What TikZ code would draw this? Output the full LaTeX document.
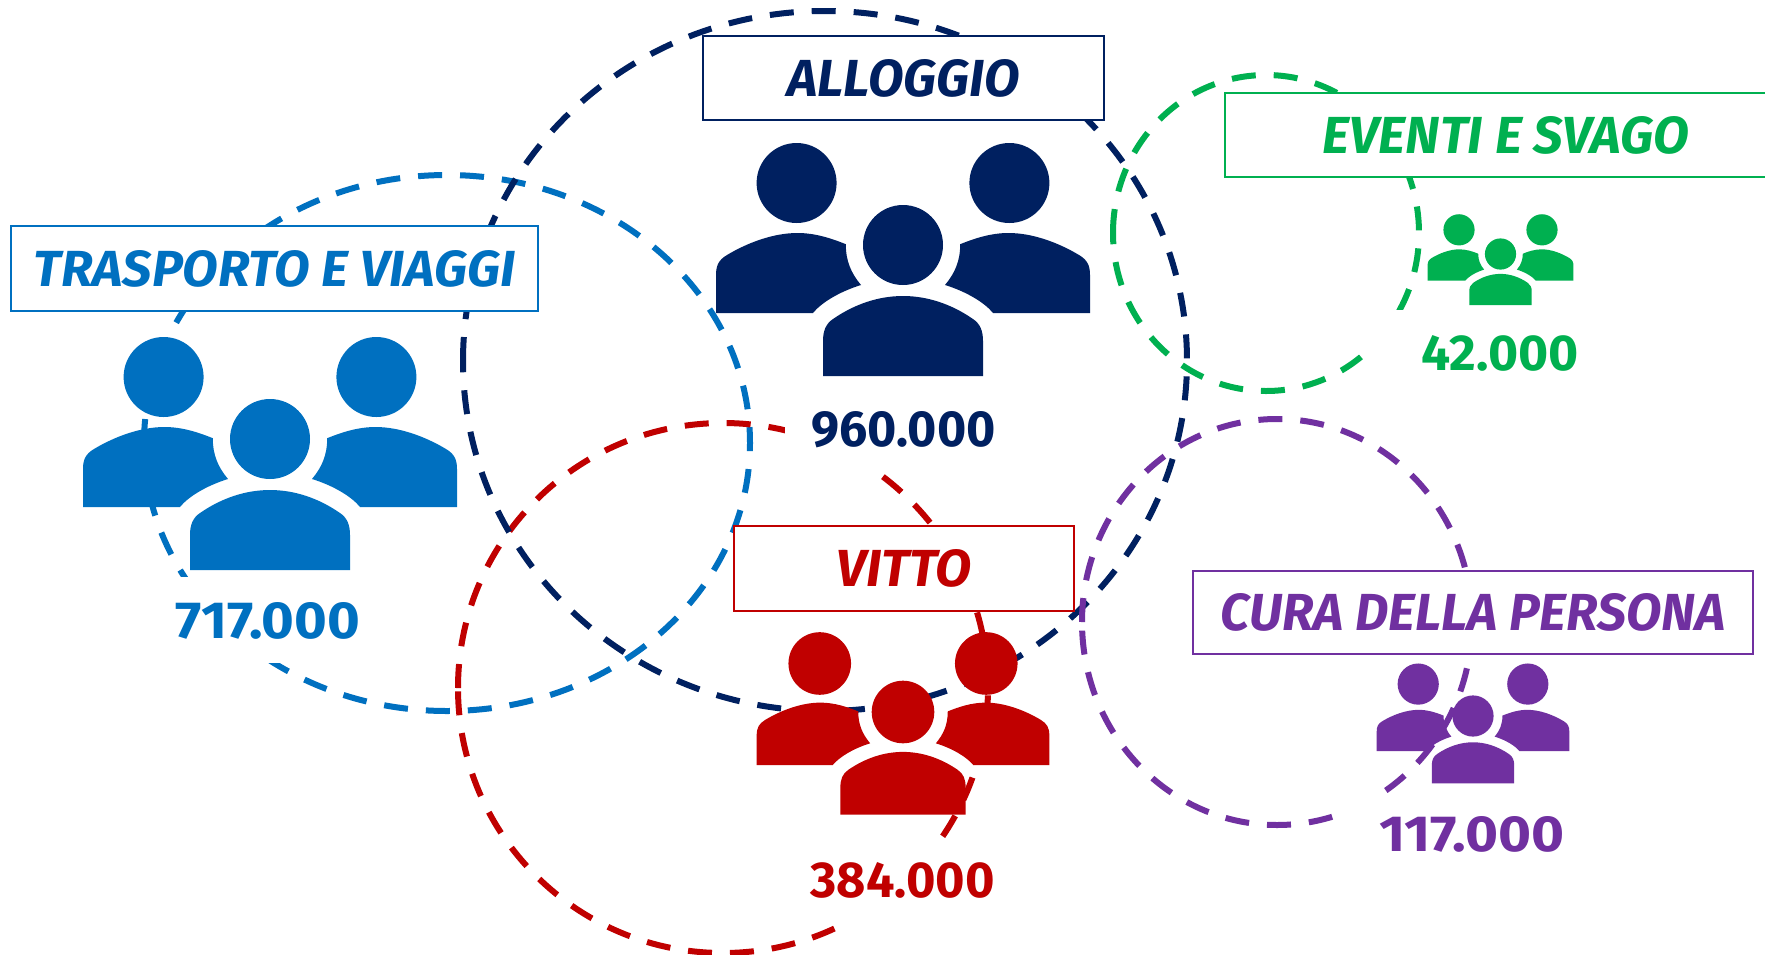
\documentclass[tikz,border=0pt]{standalone}
\usepackage{fontspec}
\usepackage{graphicx}
\setmainfont{Fira Sans}
\definecolor{navyc}{HTML}{002060}
\definecolor{bluec}{HTML}{0070C0}
\definecolor{redc}{HTML}{C00000}
\definecolor{greenc}{HTML}{00B050}
\definecolor{purplec}{HTML}{7030A0}
\tikzset{
  ring/.style={line width=6pt,dash pattern=on 24pt off 18pt},
  plate/.style={fill=white,draw=none},
  labelbox/.style={draw=#1,fill=white,line width=1.6pt,text=#1,inner sep=0pt},
  numtext/.style={text=#1,inner sep=0pt},
}
% x-centre, y-centre, x radius, y radius, colour: starts at the left, runs clockwise
\newcommand{\ringshape}[5]{%
  \draw[ring,draw=#5] ({#1-#3},#2) arc[start angle=180,delta angle=360,x radius=#3,y radius=#4];}
% x-centre, y-centre, head radius, colour
\newcommand{\peopleicon}[4]{%
  \begin{scope}[shift={(#1,#2)},x=#3pt,y=-#3pt,fill=#4,draw=none]
    \fill (-2.66,-1.55) circle[radius=1];
    \fill (2.66,-1.55) circle[radius=1];
    \fill (0,0) circle[radius=1];
    \fill (-4.675,1.7) -- (-4.675,0.75) .. controls (-4.675,0.5) and (-4.6,0.37) .. (-4.4,0.25)
      .. controls (-3.9,-0.05) and (-3.25,-0.3) .. (-2.64,-0.3)
      .. controls (-2.2,-0.3) and (-1.8,-0.17) .. (-1.43,-0.02)
      .. controls (-1.43,0.4) and (-1.3,0.7) .. (-1.05,1.0)
      .. controls (-1.6,1.17) and (-2.05,1.45) .. (-2.25,1.7) -- cycle;
    \fill (4.675,1.7) -- (4.675,0.75) .. controls (4.675,0.5) and (4.6,0.37) .. (4.4,0.25)
      .. controls (3.9,-0.05) and (3.25,-0.3) .. (2.64,-0.3)
      .. controls (2.2,-0.3) and (1.8,-0.17) .. (1.43,-0.02)
      .. controls (1.43,0.4) and (1.3,0.7) .. (1.05,1.0)
      .. controls (1.6,1.17) and (2.05,1.45) .. (2.25,1.7) -- cycle;
    \fill (-2,3.275) -- (-2,2.4) .. controls (-2,2.15) and (-1.93,1.97) .. (-1.75,1.85)
      .. controls (-1.2,1.47) and (-0.6,1.275) .. (0,1.275)
      .. controls (0.6,1.275) and (1.2,1.47) .. (1.75,1.85)
      .. controls (1.93,1.97) and (2,2.15) .. (2,2.4) -- (2,3.275) -- cycle;
  \end{scope}}
\newcommand{\fitlabel}[3]{\resizebox{#1pt}{#2pt}{\bfseries\itshape #3}}
\newcommand{\fitnum}[3]{\resizebox{#1pt}{#2pt}{\bfseries #3}}
\begin{document}
\begin{tikzpicture}[x=1pt,y=-1pt]
\useasboundingbox (0,0) rectangle (1765,954);
\fill[white] (0,0) rectangle (1765,954);
% rings
\ringshape{447}{443}{303}{268}{bluec}
\ringshape{723}{688}{265}{265}{redc}
\ringshape{825}{361}{362}{350}{navyc}
\ringshape{1266}{233}{153}{158}{greenc}
\ringshape{1277}{622}{195}{203}{purplec}
% white plates behind the numbers
\fill[plate] (165,577) rectangle (400,663);
\fill[plate] (785,395) rectangle (1015,472);
\fill[plate] (790,838) rectangle (1020,924);
\fill[plate] (1345,795) rectangle (1590,875);
\fill[plate] (1365,310) rectangle (1600,390);
% icons
\peopleicon{270}{439}{40}{bluec}
\peopleicon{903}{245}{40}{navyc}
\peopleicon{903}{712}{31.3}{redc}
\peopleicon{1500.5}{254}{15.6}{greenc}
\peopleicon{1473}{716}{20.6}{purplec}
% boxes
\node[labelbox=bluec,minimum width=527pt,minimum height=85pt] (trasporto) at (274.5,268.5) {\fitlabel{482}{36}{TRASPORTO E VIAGGI}};
\node[labelbox=navyc,minimum width=401pt,minimum height=84pt] (alloggio) at (903.5,78) {\fitlabel{232}{37}{ALLOGGIO}};
\node[labelbox=redc,minimum width=340pt,minimum height=85pt] (vitto) at (904,568.5) {\fitlabel{135}{37}{VITTO}};
\node[labelbox=purplec,minimum width=560pt,minimum height=83pt] (cura) at (1473,612.5) {\fitlabel{505}{37}{CURA DELLA PERSONA}};
\draw[line width=1.6pt,draw=greenc,fill=white] (1767,93) -- (1225,93) -- (1225,177) -- (1767,177);
\node[numtext=greenc] (eventi) at (1506,135.5) {\fitlabel{367}{37}{EVENTI E SVAGO}};
% numbers
\node[numtext=bluec] (n717) at (268,621) {\fitnum{184}{36}{717.000}};
\node[numtext=navyc] (n960) at (903.5,429.5) {\fitnum{184}{35}{960.000}};
\node[numtext=redc] (n384) at (902.5,880.5) {\fitnum{184}{35}{384.000}};
\node[numtext=purplec] (n117) at (1472,834.5) {\fitnum{185}{35}{117.000}};
\node[numtext=greenc] (n42) at (1500,353.5) {\fitnum{157}{35}{42.000}};
\end{tikzpicture}
\end{document}
